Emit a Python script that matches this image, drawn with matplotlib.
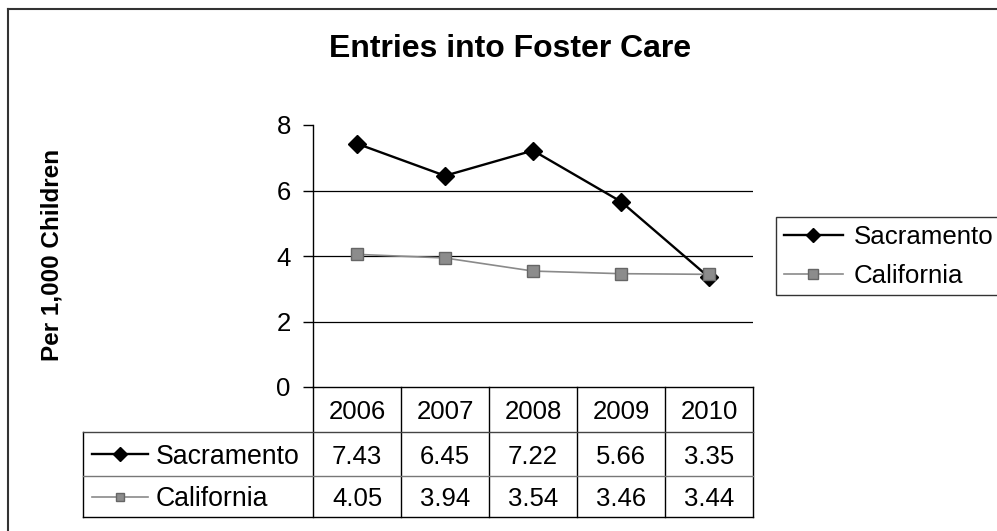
import matplotlib
matplotlib.use("Agg")
from matplotlib import pyplot as plt
from matplotlib.lines import Line2D
from matplotlib import transforms

title = "Entries into Foster Care"
y_label = "Per 1,000 Children"
years = ["2006", "2007", "2008", "2009", "2010"]
series_names = ["Sacramento", "California"]
sacramento = [7.43, 6.45, 7.22, 5.66, 3.35]
california = [4.05, 3.94, 3.54, 3.46, 3.44]
y_ticks = [0, 2, 4, 6, 8]

W, H = 997, 531
plt.rcParams['font.family'] = ['Liberation Sans', 'DejaVu Sans']


def fx(px):
    return px / W


def fy(py):
    return 1 - py / H


fig = plt.figure(figsize=(W / 100, H / 100), dpi=100)
fig.patch.set_facecolor("white")

# plot area (pixel layout)
ax = fig.add_axes([fx(313), fy(387), fx(753) - fx(313), fy(125) - fy(387)])

styles = [
    dict(color="black", lw=1.7, marker="D", ms=9, mfc="black", mec="black"),
    dict(color="#8a8a8a", lw=1.2, marker="s", ms=8.5, mfc="#8c8c8c", mec="#666666"),
]
values = [sacramento, california]

x = list(range(len(years)))
for name, vals, st in zip(series_names, values, styles):
    ax.plot(x, vals, label=name, zorder=3, **st)

ax.set_xlim(-0.5, len(years) - 0.5)
ax.set_ylim(y_ticks[0], y_ticks[-1])
ax.set_yticks(y_ticks)
ax.set_xticks([])
ax.tick_params(axis="y", direction="out", length=7, width=1, pad=9, labelsize=18.5)
for s in ["top", "right"]:
    ax.spines[s].set_visible(False)
ax.spines["left"].set_linewidth(1)
ax.spines["bottom"].set_linewidth(1)
for v in y_ticks[1:-1]:
    ax.axhline(v, color="black", lw=0.9, zorder=1)

# data table under the axis
trans = transforms.blended_transform_factory(ax.transData, ax.transAxes)
ax_h = 387 - 125
rows = [0, -(432 - 387) / ax_h, -(476 - 387) / ax_h, -(517 - 387) / ax_h]
unit = (753 - 313) / len(years)
x_left = -0.5 - (313 - 83) / unit
x_right = len(years) - 0.5


def tline(xs, ys, color="black", lw=1.0):
    ax.add_line(Line2D(xs, ys, transform=trans, color=color, lw=lw, clip_on=False))


tline([-0.5, -0.5], [rows[0], rows[3]])
for i in range(len(years)):
    tline([i + 0.5, i + 0.5], [rows[0], rows[3]])
tline([x_left, x_left], [rows[1], rows[3]])
tline([x_left, x_right], [rows[1], rows[1]], color="#444444")
tline([x_left, x_right], [rows[2], rows[2]], color="#777777")
tline([x_left, x_right], [rows[3], rows[3]])

for i, yr in enumerate(years):
    ax.text(i, (rows[0] + rows[1]) / 2, yr, transform=trans, ha="center",
            va="center_baseline", fontsize=18.5)

for r, (name, vals, st) in enumerate(zip(series_names, values, styles)):
    yc = (rows[r + 1] + rows[r + 2]) / 2
    for i, v in enumerate(vals):
        ax.text(i, yc, f"{v:.2f}", transform=trans, ha="center",
                va="center_baseline", fontsize=18.5)
    x0 = x_left + (92 - 83) / unit
    x1 = x_left + (148 - 83) / unit
    ax.add_line(Line2D([x0, x1], [yc, yc], transform=trans, clip_on=False,
                       color=st["color"], lw=st["lw"]))
    ax.add_line(Line2D([(x0 + x1) / 2], [yc], transform=trans, clip_on=False,
                       ls="none", marker=st["marker"], ms=st["ms"] * 0.75,
                       mfc=st["mfc"], mec=st["mec"]))
    ax.text(x_left + (156 - 83) / unit, yc, name, transform=trans, ha="left",
            va="center_baseline", fontsize=19.2)

# legend
handles, labels = ax.get_legend_handles_labels()
leg = fig.legend(handles, labels, loc="upper left",
                 bbox_to_anchor=(fx(776), fy(217)), bbox_transform=fig.transFigure,
                 fontsize=18.6, frameon=True, fancybox=False, edgecolor="black",
                 borderaxespad=0, borderpad=0.3, labelspacing=0.58,
                 handlelength=2.3, handletextpad=0.4, handleheight=0.7,
                 markerscale=0.8)
leg.get_frame().set_linewidth(1)

fig.text(fx(510), fy(49), title, ha="center", va="center", fontsize=23,
         fontweight="bold")
fig.text(fx(52), fy(255), y_label, ha="center", va="center", rotation=90,
         fontsize=17.5, fontweight="bold")

# outer chart frame (top and left edges visible in the scan)
fig.add_artist(Line2D([fx(8), 1], [fy(9), fy(9)], transform=fig.transFigure,
                      color="#333333", lw=1.5))
fig.add_artist(Line2D([fx(8), fx(8)], [fy(9), 0], transform=fig.transFigure,
                      color="#333333", lw=1.5))

fig.savefig("out.png", dpi=100)
